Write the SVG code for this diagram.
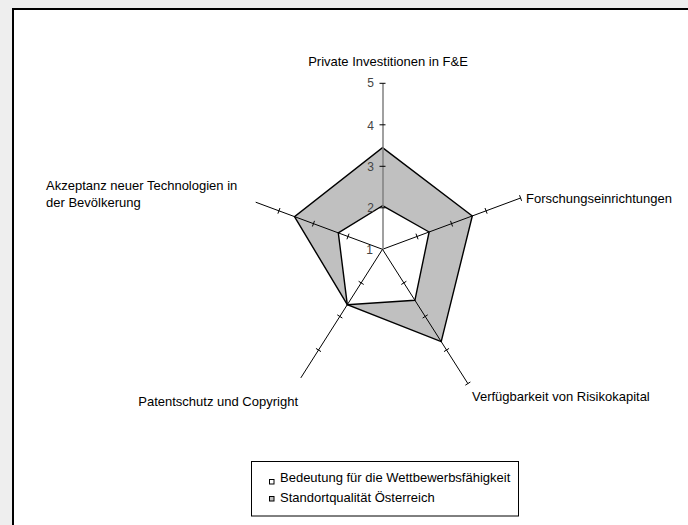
<svg xmlns="http://www.w3.org/2000/svg" width="688" height="525" viewBox="0 0 688 525">
<style>
text{font-family:"Liberation Sans",Arial,sans-serif;font-size:13px;fill:#000}
.num{font-size:12px;fill:#444;text-anchor:end}
.ax{stroke:#000;stroke-width:1;fill:none}
.tk{stroke:#000;stroke-width:1}
.poly{stroke:#000;stroke-width:1.4;stroke-linejoin:miter}
</style>
<rect x="0" y="0" width="688" height="525" fill="#eeeeee"/>
<rect id="frame" x="13" y="9" width="700" height="540" fill="#fff" stroke="#000" stroke-width="2"/>
<g id="series">
<polygon id="standort" class="poly" fill="#c0c0c0" points="382.5,147.6 472.3,216 441.2,341.6 347.3,304.7 294.5,216.6"/>
<polygon id="bedeutung" class="poly" fill="#fff" points="382.5,205.7 429.1,232 414.9,300.3 347.3,304.7 338.3,232.9"/>
</g>
<g id="connectors">
<line class="ax" x1="382.5" y1="249.3" x2="520.6" y2="198"/>
<line class="ax" x1="382.5" y1="249.3" x2="467.9" y2="383.6"/>
<line class="ax" x1="382.5" y1="249.3" x2="300.8" y2="377.9"/>
<line class="ax" x1="382.5" y1="249.3" x2="255.7" y2="202.2"/>
<line x1="383" y1="249.3" x2="383" y2="83.3" stroke="#808080" stroke-width="1.5"/>
<g class="tk">
<line x1="379.5" y1="207.8" x2="385.5" y2="207.8"/>
<line x1="379.5" y1="166.3" x2="385.5" y2="166.3"/>
<line x1="379.5" y1="124.8" x2="385.5" y2="124.8"/>
<line x1="379.5" y1="83.3" x2="385.5" y2="83.3"/>
<line x1="415.98" y1="233.67" x2="418.06" y2="239.29"/>
<line x1="450.5" y1="220.85" x2="452.58" y2="226.47"/>
<line x1="485.02" y1="208.03" x2="487.1" y2="213.65"/>
<line x1="519.54" y1="195.21" x2="521.62" y2="200.83"/>
<line x1="401.31" y1="284.48" x2="406.37" y2="281.26"/>
<line x1="422.65" y1="318.05" x2="427.71" y2="314.83"/>
<line x1="443.99" y1="351.62" x2="449.05" y2="348.4"/>
<line x1="465.33" y1="385.19" x2="470.39" y2="381.97"/>
<line x1="358.63" y1="281.26" x2="363.69" y2="284.48"/>
<line x1="337.29" y1="314.83" x2="342.35" y2="318.05"/>
<line x1="315.95" y1="348.4" x2="321.01" y2="351.62"/>
<line x1="346.94" y1="239.29" x2="349.02" y2="233.67"/>
<line x1="312.42" y1="226.47" x2="314.5" y2="220.85"/>
<line x1="277.9" y1="213.65" x2="279.98" y2="208.03"/>
</g>
</g>
<g id="scale">
<text class="num" x="374" y="87">5</text>
<text class="num" x="374" y="130.3">4</text>
<text class="num" x="374" y="170.5">3</text>
<text class="num" x="374" y="212">2</text>
<text class="num" x="373" y="253.5">1</text>
</g>
<g id="label-top"><text x="388" y="66" text-anchor="middle">Private Investitionen in F&amp;E</text></g>
<g id="label-right"><text x="526" y="203">Forschungseinrichtungen</text></g>
<g id="label-lowright"><text x="472" y="401">Verfügbarkeit von Risikokapital</text></g>
<g id="label-lowleft"><text x="298" y="406" text-anchor="end">Patentschutz und Copyright</text></g>
<g id="label-left"><text x="46" y="190">Akzeptanz neuer Technologien in</text><text x="46" y="207">der Bevölkerung</text></g>
<g id="legend">
<rect x="251.5" y="461.5" width="267" height="54.5" fill="#fff" stroke="#000" stroke-width="1"/>
<rect x="269.5" y="479.5" width="4.5" height="4.5" fill="#fff" stroke="#000" stroke-width="1"/>
<text x="280" y="481.7">Bedeutung für die Wettbewerbsfähigkeit</text>
<rect x="269.5" y="496.5" width="4.5" height="4.5" fill="#c0c0c0" stroke="#000" stroke-width="1"/>
<text x="280" y="501.7">Standortqualität Österreich</text>
</g>
</svg>
